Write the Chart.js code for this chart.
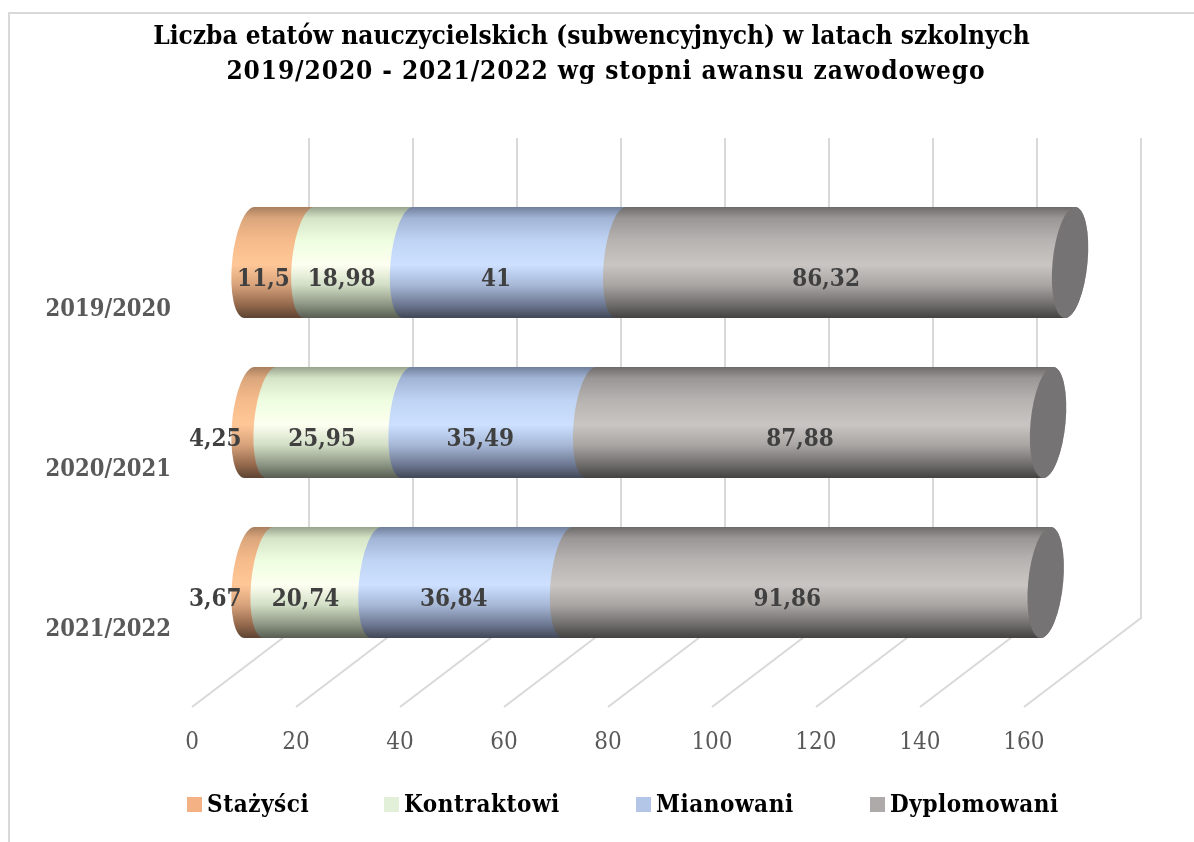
<!DOCTYPE html>
<html lang="pl">
<head>
<meta charset="utf-8">
<title>Liczba etatów nauczycielskich</title>
<style>
    html, body { margin: 0; background: #fff; overflow: hidden; }
    #wrap { position: relative; width: 1194px; height: 842px; }
    /* ramka wykresu - widoczna tylko góra i lewa strona */
    #frame { position: absolute; left: 8px; top: 12px; right: 0; bottom: 0; border-left: 2px solid #d9d9d9; border-top: 2px solid #d9d9d9; }
    canvas { position: absolute; left: 0; top: 0; }
</style>
<script src="https://cdn.jsdelivr.net/npm/chart.js@4/dist/chart.umd.min.js"></script>
</head>
<body>
<div id="wrap">
    <div id="frame"></div>
    <canvas id="chart" width="1194" height="842"></canvas>
</div>
<script>
const titleLines = ['Liczba etatów nauczycielskich (subwencyjnych) w latach szkolnych', '2019/2020 - 2021/2022 wg stopni awansu zawodowego'];
const categories = ['2019/2020', '2020/2021', '2021/2022'];
const stazysci = [11.5, 4.25, 3.67];
const kontraktowi = [18.98, 25.95, 20.74];
const mianowani = [41, 35.49, 36.84];
const dyplomowani = [86.32, 87.88, 91.86];
const xTicks = [0, 20, 40, 60, 80, 100, 120, 140, 160];

const serif = "'DejaVu Serif Condensed', 'DejaVu Serif', serif";

// Kolory cylindrów: [pozycja, kolor] od góry do dołu
const shades = {
    orange: [[0, '#a97f5f'], [0.1, '#dba67c'], [0.3, '#f7bb8b'], [0.52, '#ffc797'], [0.7, '#d8a37c'], [0.88, '#94694d'], [1, '#5d4232']],
    green: [[0, '#98a38d'], [0.1, '#d5e4c7'], [0.3, '#eefde0'], [0.52, '#fdfff0'], [0.7, '#d3dfc6'], [0.88, '#8c9583'], [1, '#585d52']],
    blue: [[0, '#6f7f9c'], [0.1, '#a2b4d5'], [0.3, '#bfd3f4'], [0.52, '#cde0ff'], [0.7, '#a8b9d8'], [0.88, '#6d7892'], [1, '#414756']],
    grey: [[0, '#6d6b6a'], [0.1, '#999695'], [0.3, '#b6b3b1'], [0.52, '#c9c5c3'], [0.7, '#a9a6a4'], [0.88, '#6f6d6c'], [1, '#434241']]
};

const DEPTH_X = 117, DEPTH_Y = 89;   // głębokość ścian
const BAR_DX = 57.5, BAR_DY = 44.5;  // cylinder stoi w połowie głębokości
const END_RX = 17.5, SKEW = 0.09;
const LABEL_SHIFT = [16, 17, 18.5, 19.5];

const fmt = v => String(v).replace('.', ',');

// Siatka 3D: ściana tylna i podłoga
const gridPlugin = {
    id: 'grid3d',
    beforeDatasetsDraw(chart) {
        const { ctx, chartArea, scales } = chart;
        ctx.save();
        ctx.strokeStyle = '#d9d9d9';
        ctx.lineWidth = 2;
        xTicks.forEach(t => {
            const x = scales.x.getPixelForValue(t);
            ctx.beginPath();
            ctx.moveTo(x, chartArea.bottom);
            ctx.lineTo(x + DEPTH_X, chartArea.bottom - DEPTH_Y);
            ctx.lineTo(x + DEPTH_X, chartArea.top - DEPTH_Y);
            ctx.stroke();
        });
        ctx.restore();
    }
};

// Cylindry rysowane z elementów słupków, zamiast płaskich prostokątów
const cylinderPlugin = {
    id: 'cylinders',
    beforeDatasetsDraw(chart) {
        const { ctx } = chart;
        const last = chart.data.datasets.length - 1;
        chart.data.datasets.forEach((ds, d) => {
            chart.getDatasetMeta(d).data.forEach(bar => {
                const r = bar.height / 2;
                const x0 = bar.base + BAR_DX, x1 = bar.x + BAR_DX;
                ctx.save();
                ctx.transform(1, 0, -SKEW, 1, 0, bar.y - BAR_DY);
                const g = ctx.createLinearGradient(0, -r, 0, r);
                ds.shade.forEach(s => g.addColorStop(s[0], s[1]));
                ctx.beginPath();
                ctx.moveTo(x0, -r);
                ctx.lineTo(x1, -r);
                ctx.ellipse(x1, 0, END_RX, r, 0, -Math.PI / 2, Math.PI / 2);
                ctx.lineTo(x0, r);
                ctx.ellipse(x0, 0, END_RX, r, 0, Math.PI / 2, Math.PI * 1.5);
                ctx.closePath();
                ctx.fillStyle = g;
                ctx.fill();
                if (d === last) {
                    ctx.beginPath();
                    ctx.ellipse(x1, 0, END_RX, r, 0, 0, Math.PI * 2);
                    ctx.fillStyle = '#757373';
                    ctx.fill();
                }
                ctx.restore();
            });
        });
        // Etykiety wartości
        ctx.save();
        ctx.font = 'bold 24px ' + serif;
        ctx.fillStyle = '#404040';
        ctx.textBaseline = 'middle';
        chart.data.datasets.forEach((ds, d) => {
            chart.getDatasetMeta(d).data.forEach((bar, i) => {
                const text = fmt(ds.data[i]);
                const y = bar.y - BAR_DY + 17;
                if (bar.x - bar.base < 40) {
                    ctx.textAlign = 'right';
                    ctx.fillText(text, bar.base + BAR_DX - 8, y);
                } else {
                    ctx.textAlign = 'center';
                    ctx.fillText(text, (bar.x + bar.base) / 2 + BAR_DX - LABEL_SHIFT[d], y);
                }
            });
        });
        ctx.restore();
        return false;
    }
};

// Tytuł i legenda: odstępy jak w oryginale
const textPlugin = {
    id: 'titleLegend',
    afterDraw(chart) {
        const { ctx } = chart;
        ctx.save();
        ctx.textBaseline = 'middle';
        ctx.fillStyle = '#000';
        ctx.font = 'bold 26px ' + serif;
        ctx.textAlign = 'center';
        ctx.fillText(titleLines[0], 591.5, 37.5);
        ctx.letterSpacing = '0.9px';
        ctx.fillText(titleLines[1], 606, 72.5);

        ctx.textAlign = 'left';
        ctx.font = 'bold 24px ' + serif;
        ctx.letterSpacing = '0.55px';
        const legendX = [187, 384, 636, 870];
        chart.data.datasets.forEach((ds, d) => {
            ctx.fillStyle = ds.backgroundColor;
            ctx.fillRect(legendX[d], 797, 15, 15);
            ctx.fillStyle = '#000';
            ctx.fillText(ds.label, legendX[d] + 20, 806);
        });
        ctx.restore();
    }
};

new Chart(document.getElementById('chart'), {
    type: 'bar',
    data: {
        labels: categories,
        datasets: [
            { label: 'Stażyści', data: stazysci, backgroundColor: '#f4b183', shade: shades.orange },
            { label: 'Kontraktowi', data: kontraktowi, backgroundColor: '#e2efd9', shade: shades.green },
            { label: 'Mianowani', data: mianowani, backgroundColor: '#b4c6e7', shade: shades.blue },
            { label: 'Dyplomowani', data: dyplomowani, backgroundColor: '#aeaaaa', shade: shades.grey }
        ]
    },
    plugins: [gridPlugin, cylinderPlugin, textPlugin],
    options: {
        indexAxis: 'y',
        responsive: false,
        animation: false,
        barPercentage: 0.694,
        categoryPercentage: 1,
        layout: { padding: { left: 18, right: 0, top: 227, bottom: 80 } },
        scales: {
            x: {
                stacked: true,
                min: 0,
                max: 192.7,
                afterBuildTicks: s => { s.ticks = xTicks.map(v => ({ value: v })); },
                afterFit: s => { s.height = 55; },
                grid: { display: false, drawTicks: false },
                border: { display: false },
                ticks: { padding: 21, color: '#595959', font: { family: serif, size: 24 }, maxRotation: 0 }
            },
            y: {
                stacked: true,
                afterFit: s => { s.width = 174; },
                grid: { display: false, drawTicks: false },
                border: { display: false },
                ticks: { padding: 21, labelOffset: 3, color: '#595959', font: { family: serif, size: 23.5, weight: 'bold' } }
            }
        },
        plugins: {
            tooltip: { enabled: false },
            legend: { display: false },
            title: { display: false }
        }
    }
});
</script>
</body>
</html>
